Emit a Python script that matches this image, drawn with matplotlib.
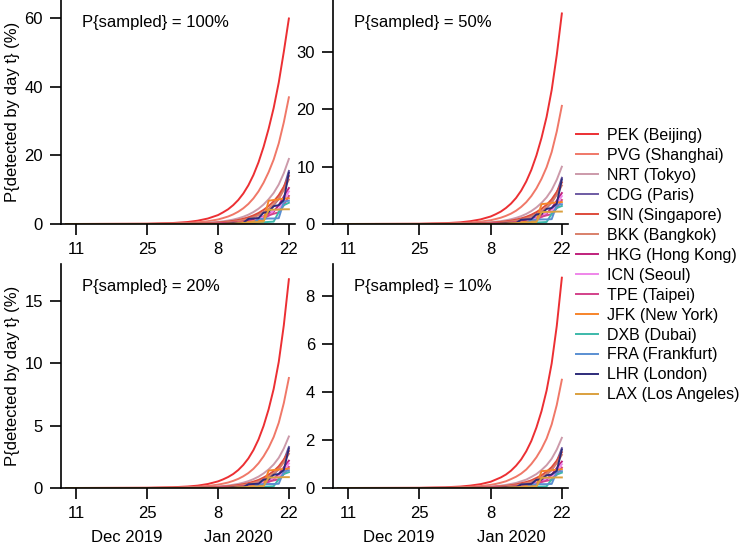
import datetime as dt

import matplotlib
matplotlib.use("Agg")
import matplotlib.pyplot as plt
import matplotlib.dates as mdates
from matplotlib.transforms import blended_transform_factory

plt.rcParams['font.family'] = ['Liberation Sans', 'DejaVu Sans']

# dates of the sampled points (Dec 2019 - Jan 2020)
dates = ["2019-12-09", "2019-12-25", "2019-12-30", "2020-01-02", "2020-01-04", "2020-01-06",
         "2020-01-08", "2020-01-09", "2020-01-10", "2020-01-11", "2020-01-12", "2020-01-13",
         "2020-01-14", "2020-01-15", "2020-01-16", "2020-01-17", "2020-01-18", "2020-01-19",
         "2020-01-20", "2020-01-21", "2020-01-22"]

airports = ["PEK (Beijing)", "PVG (Shanghai)", "NRT (Tokyo)", "CDG (Paris)", "SIN (Singapore)",
            "BKK (Bangkok)", "HKG (Hong Kong)", "ICN (Seoul)", "TPE (Taipei)", "JFK (New York)",
            "DXB (Dubai)", "FRA (Frankfurt)", "LHR (London)", "LAX (Los Angeles)"]
couleurs = ['#ec2f33', '#f07868', '#cc9aaa', '#6e5ba3', '#de4b3b', '#d9806a', '#c0207c',
            '#ef86ea', '#d3418a', '#f7842a', '#3cb9aa', '#5a8fd2', '#2d2b7a', '#dba03e']

# P{sampled} = 100%
pek_100 = [0, .08, .28, .58, .97, 1.6, 2.6, 3.4, 4.3, 5.5, 7.0, 8.9, 11.3, 14.3, 18.0, 22.5, 27.8, 33.9, 41.3, 50.3, 60.0]
pvg_100 = [0, .04, .14, .29, .49, .81, 1.32, 1.73, 2.19, 2.81, 3.59, 4.59, 5.86, 7.48, 9.52, 12.06, 15.14, 18.83, 23.55, 29.69, 36.99]
nrt_100 = [0, .02, .06, .13, .22, .37, .60, .79, 1.01, 1.29, 1.66, 2.12, 2.72, 3.49, 4.46, 5.69, 7.22, 9.08, 11.53, 14.85, 19.0]
cdg_100 = [0, 0, 0, .02, .05, .10, .20, .30, .45, .65, .90, 1.2, 1.6, 2.1, 2.7, 3.4, 4.3, 5.5, 7.3, 10.5, 15.5]
sin_100 = [0, .01, .05, .10, .16, .27, .43, .57, .72, .93, 1.19, 1.53, 1.96, 2.51, 3.22, 4.12, 5.23, 6.6, 8.42, 10.9, 14.0]
bkk_100 = [0, 0, .02, .05, .10, .17, .29, .38, .50, .66, .87, 1.14, 1.50, 1.97, 2.58, 3.37, 4.4, 5.7, 7.4, 9.9, 13.0]
hkg_100 = [0, 0, 0, 0, 0, .05, .10, .20, .30, .40, .50, .70, 1.0, 1.3, 1.8, 2.2, 3.0, 3.6, 5.5, 8.0, 10.5]
icn_100 = [0, 0, 0, 0, 0, 0, 0, 0, 0, 0, .40, .40, .60, .80, 1.8, 2.0, 2.3, 4.0, 4.3, 7.0, 9.5]
tpe_100 = [0, 0, 0, 0, 0, 0, 0, 0, 0, 0, 0, .30, .30, .50, .60, 1.5, 2.5, 3.0, 3.4, 5.5, 8.2]
jfk_100 = [0, 0, 0, 0, 0, 0, 0, 0, .20, .30, .40, .50, .60, .80, 1.0, 1.1, 6.8, 7.0, 7.2, 7.4, 7.5]
dxb_100 = [0, 0, 0, 0, 0, 0, 0, 0, 0, 0, 0, 0, 0, .30, .40, .50, .60, .70, 3.5, 5.5, 6.2]
fra_100 = [0, 0, 0, 0, 0, 0, 0, 0, 0, 0, 0, 0, 0, .20, 1.5, 1.5, 1.6, 1.6, 1.7, 6.5, 6.8]
lhr_100 = [0, 0, 0, 0, 0, 0, 0, 0, .10, .20, .20, .30, 1.5, 1.6, 1.7, 3.3, 3.5, 5.2, 5.5, 7.0, 15.0]
lax_100 = [0, 0, 0, 0, 0, 0, 0, 0, 0, 0, .20, .30, .40, .50, .60, .70, 4.1, 4.2, 4.2, 4.3, 4.3]

# P{sampled} = 50%
pek_50 = [0, .04, .14, .29, .49, .80, 1.31, 1.71, 2.17, 2.79, 3.56, 4.55, 5.82, 7.43, 9.45, 11.97, 15.03, 18.70, 23.39, 29.50, 36.75]
pvg_50 = [0, .02, .07, .15, .25, .41, .66, .87, 1.10, 1.42, 1.81, 2.32, 2.98, 3.81, 4.88, 6.22, 7.88, 9.91, 12.56, 16.15, 20.62]
nrt_50 = [0, .01, .03, .07, .11, .19, .30, .40, .50, .65, .83, 1.07, 1.37, 1.76, 2.26, 2.89, 3.68, 4.65, 5.94, 7.73, 10.0]
cdg_50 = [0, 0, 0, .01, .03, .05, .10, .15, .23, .33, .45, .60, .80, 1.06, 1.36, 1.72, 2.17, 2.79, 3.72, 5.39, 8.07]
sin_50 = [0, .01, .03, .05, .08, .14, .22, .29, .36, .47, .60, .77, .98, 1.26, 1.62, 2.08, 2.65, 3.36, 4.30, 5.61, 7.26]
bkk_50 = [0, 0, .01, .03, .05, .09, .15, .19, .25, .33, .44, .57, .75, .99, 1.30, 1.70, 2.22, 2.89, 3.77, 5.08, 6.73]
hkg_50 = [0, 0, 0, 0, 0, .03, .05, .10, .15, .20, .25, .35, .50, .65, .91, 1.11, 1.51, 1.82, 2.79, 4.08, 5.40]
icn_50 = [0, 0, 0, 0, 0, 0, 0, 0, 0, 0, .20, .20, .30, .40, .91, 1.01, 1.16, 2.02, 2.17, 3.56, 4.87]
tpe_50 = [0, 0, 0, 0, 0, 0, 0, 0, 0, 0, 0, .15, .15, .25, .30, .75, 1.26, 1.51, 1.72, 2.79, 4.19]
jfk_50 = [0, 0, 0, 0, 0, 0, 0, 0, .10, .15, .20, .25, .30, .40, .50, .55, 3.46, 3.56, 3.67, 3.77, 3.82]
dxb_50 = [0, 0, 0, 0, 0, 0, 0, 0, 0, 0, 0, 0, 0, .15, .20, .25, .30, .35, 1.77, 2.79, 3.15]
fra_50 = [0, 0, 0, 0, 0, 0, 0, 0, 0, 0, 0, 0, 0, .10, .75, .75, .80, .80, .85, 3.30, 3.46]
lhr_50 = [0, 0, 0, 0, 0, 0, 0, 0, .05, .10, .10, .15, .75, .80, .85, 1.66, 1.77, 2.63, 2.79, 3.56, 7.80]
lax_50 = [0, 0, 0, 0, 0, 0, 0, 0, 0, 0, .10, .15, .20, .25, .30, .35, 2.07, 2.12, 2.12, 2.17, 2.17]

# P{sampled} = 20%
pek_20 = [0, .02, .06, .12, .19, .32, .53, .69, .88, 1.12, 1.44, 1.85, 2.37, 3.04, 3.89, 4.97, 6.31, 7.95, 10.11, 13.05, 16.74]
pvg_20 = [0, .01, .03, .06, .10, .16, .27, .35, .44, .57, .73, .94, 1.20, 1.54, 1.98, 2.54, 3.23, 4.09, 5.23, 6.81, 8.82]
nrt_20 = [0, 0, .01, .03, .04, .07, .12, .16, .20, .26, .33, .43, .55, .71, .91, 1.17, 1.49, 1.89, 2.42, 3.17, 4.13]
cdg_20 = [0, 0, 0, 0, .01, .02, .04, .06, .09, .13, .18, .24, .32, .42, .54, .69, .87, 1.12, 1.50, 2.19, 3.29]
sin_20 = [0, 0, .01, .02, .03, .05, .09, .11, .14, .19, .24, .31, .39, .51, .65, .84, 1.07, 1.35, 1.74, 2.28, 2.96]
bkk_20 = [0, 0, 0, .01, .02, .03, .06, .08, .10, .13, .17, .23, .30, .40, .52, .69, .90, 1.17, 1.52, 2.06, 2.74]
hkg_20 = [0, 0, 0, 0, 0, .01, .02, .04, .06, .08, .10, .14, .20, .26, .36, .44, .61, .73, 1.12, 1.65, 2.19]
icn_20 = [0, 0, 0, 0, 0, 0, 0, 0, 0, 0, .08, .08, .12, .16, .36, .40, .46, .81, .87, 1.44, 1.97]
tpe_20 = [0, 0, 0, 0, 0, 0, 0, 0, 0, 0, 0, .06, .06, .10, .12, .30, .51, .61, .69, 1.12, 1.69]
jfk_20 = [0, 0, 0, 0, 0, 0, 0, 0, .04, .06, .08, .10, .12, .16, .20, .22, 1.40, 1.44, 1.48, 1.52, 1.55]
dxb_20 = [0, 0, 0, 0, 0, 0, 0, 0, 0, 0, 0, 0, 0, .06, .08, .10, .12, .14, .71, 1.12, 1.27]
fra_20 = [0, 0, 0, 0, 0, 0, 0, 0, 0, 0, 0, 0, 0, .04, .30, .30, .32, .32, .34, 1.33, 1.40]
lhr_20 = [0, 0, 0, 0, 0, 0, 0, 0, .02, .04, .04, .06, .30, .32, .34, .67, .71, 1.06, 1.12, 1.44, 3.18]
lax_20 = [0, 0, 0, 0, 0, 0, 0, 0, 0, 0, .04, .06, .08, .10, .12, .14, .83, .85, .85, .87, .87]

# P{sampled} = 10%
pek_10 = [0, .01, .03, .06, .10, .16, .26, .35, .44, .56, .72, .93, 1.19, 1.53, 1.96, 2.52, 3.20, 4.06, 5.19, 6.75, 8.76]
pvg_10 = [0, 0, .01, .03, .05, .08, .13, .17, .22, .28, .37, .47, .60, .77, 1.00, 1.28, 1.63, 2.06, 2.65, 3.46, 4.51]
nrt_10 = [0, 0, .01, .01, .02, .04, .06, .08, .10, .13, .17, .21, .28, .35, .46, .58, .75, .95, 1.22, 1.60, 2.09]
cdg_10 = [0, 0, 0, 0, 0, .01, .02, .03, .05, .07, .09, .12, .16, .21, .27, .34, .44, .56, .75, 1.10, 1.66]
sin_10 = [0, 0, 0, .01, .02, .03, .04, .06, .07, .09, .12, .15, .20, .25, .32, .42, .53, .68, .87, 1.14, 1.49]
bkk_10 = [0, 0, 0, .01, .01, .02, .03, .04, .05, .07, .09, .11, .15, .20, .26, .34, .45, .58, .76, 1.03, 1.38]
hkg_10 = [0, 0, 0, 0, 0, .01, .01, .02, .03, .04, .05, .07, .10, .13, .18, .22, .30, .36, .56, .83, 1.10]
icn_10 = [0, 0, 0, 0, 0, 0, 0, 0, 0, 0, .04, .04, .06, .08, .18, .20, .23, .41, .44, .72, .99]
tpe_10 = [0, 0, 0, 0, 0, 0, 0, 0, 0, 0, 0, .03, .03, .05, .06, .15, .25, .30, .34, .56, .85]
jfk_10 = [0, 0, 0, 0, 0, 0, 0, 0, .02, .03, .04, .05, .06, .08, .10, .11, .70, .72, .74, .76, .78]
dxb_10 = [0, 0, 0, 0, 0, 0, 0, 0, 0, 0, 0, 0, 0, .03, .04, .05, .06, .07, .36, .56, .64]
fra_10 = [0, 0, 0, 0, 0, 0, 0, 0, 0, 0, 0, 0, 0, .02, .15, .15, .16, .16, .17, .67, .70]
lhr_10 = [0, 0, 0, 0, 0, 0, 0, 0, .01, .02, .02, .03, .15, .16, .17, .34, .36, .53, .56, .72, 1.60]
lax_10 = [0, 0, 0, 0, 0, 0, 0, 0, 0, 0, .02, .03, .04, .05, .06, .07, .42, .43, .43, .44, .44]

panneaux = [
    ("P{sampled} = 100%", [pek_100, pvg_100, nrt_100, cdg_100, sin_100, bkk_100, hkg_100,
                           icn_100, tpe_100, jfk_100, dxb_100, fra_100, lhr_100, lax_100],
     [0, 20, 40, 60], 65.4),
    ("P{sampled} = 50%", [pek_50, pvg_50, nrt_50, cdg_50, sin_50, bkk_50, hkg_50,
                          icn_50, tpe_50, jfk_50, dxb_50, fra_50, lhr_50, lax_50],
     [0, 10, 20, 30], 39.1),
    ("P{sampled} = 20%", [pek_20, pvg_20, nrt_20, cdg_20, sin_20, bkk_20, hkg_20,
                          icn_20, tpe_20, jfk_20, dxb_20, fra_20, lhr_20, lax_20],
     [0, 5, 10, 15], 17.96),
    ("P{sampled} = 10%", [pek_10, pvg_10, nrt_10, cdg_10, sin_10, bkk_10, hkg_10,
                          icn_10, tpe_10, jfk_10, dxb_10, fra_10, lhr_10, lax_10],
     [0, 2, 4, 6, 8], 9.33),
]

jours = [dt.datetime.strptime(d, "%Y-%m-%d") for d in dates]
ticks_x = [dt.datetime(2019, 12, 11), dt.datetime(2019, 12, 25), dt.datetime(2020, 1, 8), dt.datetime(2020, 1, 22)]
xmin = mdates.date2num(dt.datetime(2019, 12, 8))
xmax = mdates.date2num(dt.datetime(2020, 1, 23, 5))

W, H = 745, 544
positions = [
    [61 / W, (H - 224) / H, 234 / W, 224 / H],
    [333 / W, (H - 224) / H, 235 / W, 224 / H],
    [61 / W, (H - 488) / H, 234 / W, 224 / H],
    [333 / W, (H - 488) / H, 235 / W, 224 / H],
]

fig = plt.figure(figsize=(7.45, 5.44), dpi=100)

lignes = []
for k, (titre, series, yt, ytop) in enumerate(panneaux):
    ax = fig.add_axes(positions[k])
    for i in range(len(series)):
        l, = ax.plot(jours, series[i], color=couleurs[i], lw=1.4, label=airports[i])
        if k == 0:
            lignes.append(l)

    ax.set_xlim(xmin, xmax)
    ax.set_ylim(0, ytop)
    ax.set_yticks(yt)
    ax.set_xticks(ticks_x)
    ax.set_xticklabels(["11", "25", "8", "22"])
    ax.spines['top'].set_visible(False)
    ax.spines['right'].set_visible(False)
    for s in ['left', 'bottom']:
        ax.spines[s].set_linewidth(1.2)
    ax.tick_params(direction='out', length=8, width=1.2, pad=5, labelsize=12)

    ax.text(0.09, 0.90, titre, transform=ax.transAxes, fontsize=12, ha='left', va='center')

    if k % 2 == 0:
        ax.set_ylabel("P{detected by day t} (%)", fontsize=12, labelpad=3)
    if k >= 2:
        trans = blended_transform_factory(ax.transData, ax.transAxes)
        ax.text(mdates.date2num(dt.datetime(2019, 12, 21)), -0.22, "Dec 2019", transform=trans,
                fontsize=12, ha='center', va='center')
        ax.text(mdates.date2num(dt.datetime(2020, 1, 12)), -0.22, "Jan 2020", transform=trans,
                fontsize=12, ha='center', va='center')

fig.legend(lignes, airports, loc='upper left', bbox_to_anchor=(576 / W, 1 - 128 / H),
           frameon=False, fontsize=11.5, handlelength=1.37, handletextpad=0.6,
           labelspacing=0.31, borderpad=0, borderaxespad=0)

plt.savefig("out.png", dpi=100)
